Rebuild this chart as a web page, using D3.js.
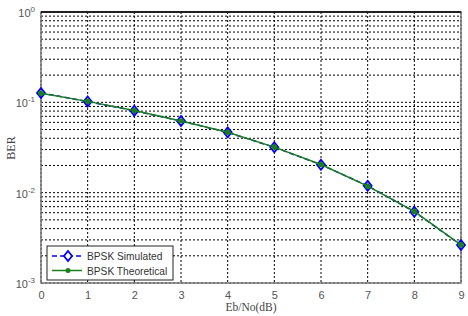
<!DOCTYPE html>
<html>
<head>
<meta charset="utf-8">
<script src="https://cdn.jsdelivr.net/npm/d3@7"></script>
<style>
  body { margin: 0; background: #fff; }
  svg { display: block; }
</style>
</head>
<body>
<svg id="chart" width="468" height="316"></svg>
<script>
// data
let snr = [0, 1, 2, 3, 4, 5, 6, 7, 8, 9];
let berSim = [0.127, 0.102, 0.0807, 0.0621, 0.0465, 0.0318, 0.0204, 0.0119, 0.00615, 0.00263];
let berTheory = [0.126, 0.1025, 0.081, 0.0622, 0.0466, 0.0319, 0.0205, 0.0118, 0.0062, 0.00265];
let yTicks = [1e-3, 1e-2, 1e-1, 1];
let yExp = ["-3", "-2", "-1", "0"];
let legendNames = ["BPSK Simulated", "BPSK Theoretical"];

function makeChart(id) {
    let margins = {top: 12, right: 7, bottom: 33, left: 41};
    let width = 468, height = 316;
    let innerWidth = width - margins.left - margins.right;
    let innerHeight = height - margins.top - margins.bottom;

    let svg = d3.select("#" + id);
    let g = svg.append("g").attr("transform", `translate(${margins.left},${margins.top})`);

    let xScale = d3.scaleLinear().domain([0, 9]).range([0, innerWidth]);
    let yScale = d3.scaleLog().domain([1e-3, 1]).range([innerHeight, 0]);

    // minor + major grid on log axis
    let yGrid = [];
    for (let e = -3; e < 0; e++) {
        for (let k = 1; k < 10; k++) yGrid.push(k * Math.pow(10, e));
    }
    yGrid.push(1);

    g.selectAll(".ygrid").data(yGrid).enter().append("line")
        .attr("class", "ygrid")
        .attr("x1", 0).attr("x2", innerWidth)
        .attr("y1", d => yScale(d)).attr("y2", d => yScale(d))
        .style("stroke", "#000").style("stroke-width", 1)
        .style("stroke-dasharray", "2,2");

    g.selectAll(".xgrid").data(snr).enter().append("line")
        .attr("class", "xgrid")
        .attr("x1", d => xScale(d)).attr("x2", d => xScale(d))
        .attr("y1", 0).attr("y2", innerHeight)
        .style("stroke", "#000").style("stroke-width", 1)
        .style("stroke-dasharray", "2,2");

    // box
    g.append("rect")
        .attr("x", 0).attr("y", 0)
        .attr("width", innerWidth).attr("height", innerHeight)
        .style("fill", "none").style("stroke", "#777").style("stroke-width", 1.5);
    g.append("line")
        .attr("x1", 0).attr("x2", innerWidth).attr("y1", 0).attr("y2", 0)
        .style("stroke", "#000").style("stroke-width", 1.5);

    // x ticks
    let xAxis = g.append("g")
        .attr("transform", `translate(0,${innerHeight})`)
        .call(d3.axisBottom(xScale).tickValues(snr).tickSize(0).tickPadding(8).tickFormat(d3.format("d")));
    xAxis.select(".domain").remove();
    xAxis.selectAll("text")
        .style("font-family", "Liberation Sans, Arial, sans-serif")
        .style("font-size", "11px").style("fill", "#555");

    // y ticks with superscripts
    let yLab = g.selectAll(".ylab").data(yTicks).enter().append("text")
        .attr("class", "ylab")
        .attr("x", -6).attr("y", d => yScale(d) + 5)
        .attr("text-anchor", "end")
        .style("font-family", "Liberation Sans, Arial, sans-serif")
        .style("font-size", "11px").style("fill", "#555");
    yLab.append("tspan").text("10");
    yLab.append("tspan").attr("dy", -5).style("font-size", "8px").text((d, i) => yExp[i]);

    // axis titles
    svg.append("text")
        .attr("x", margins.left + innerWidth / 2).attr("y", 311)
        .attr("text-anchor", "middle")
        .style("font-family", "Liberation Serif, Times New Roman, serif")
        .style("font-size", "11.5px").style("fill", "#444")
        .text("Eb/No(dB)");
    svg.append("text")
        .attr("transform", `translate(15,148) rotate(-90)`)
        .attr("text-anchor", "middle")
        .style("font-family", "Liberation Serif, Times New Roman, serif")
        .style("font-size", "12px").style("fill", "#444")
        .text("BER");

    let line = d3.line().x((d, i) => xScale(snr[i])).y(d => yScale(d));

    let diamond = "M0,-5L4,0L0,5L-4,0Z";

    // simulated
    g.append("path").datum(berSim).attr("d", line)
        .style("fill", "none").style("stroke", "#0000ff").style("stroke-width", 1.5)
        .style("stroke-dasharray", "5,3");
    g.selectAll(".sim").data(berSim).enter().append("path")
        .attr("class", "sim")
        .attr("transform", (d, i) => `translate(${xScale(snr[i])},${yScale(d)})`)
        .attr("d", diamond)
        .style("fill", "none").style("stroke", "#0000ff").style("stroke-width", 1.8);

    // theoretical
    g.append("path").datum(berTheory).attr("d", line)
        .style("fill", "none").style("stroke", "#1a801a").style("stroke-width", 1.5);
    g.selectAll(".th").data(berTheory).enter().append("circle")
        .attr("class", "th")
        .attr("cx", (d, i) => xScale(snr[i])).attr("cy", d => yScale(d))
        .attr("r", 2.8)
        .style("fill", "#1a801a");

    // legend
    let lg = svg.append("g").attr("transform", "translate(47,246)");
    lg.append("rect").attr("width", 126).attr("height", 34)
        .style("fill", "#fff").style("stroke", "#222").style("stroke-width", 1);
    let rows = lg.selectAll(".row").data(legendNames).enter().append("g")
        .attr("class", "row")
        .attr("transform", (d, i) => `translate(0,${10 + i * 14.5})`);
    rows.append("line").attr("x1", 5).attr("x2", 35).attr("y1", 0).attr("y2", 0)
        .style("stroke", (d, i) => i === 0 ? "#0000ff" : "#1a801a")
        .style("stroke-width", 1.5)
        .style("stroke-dasharray", (d, i) => i === 0 ? "5,3" : null);
    rows.filter((d, i) => i === 0).append("path")
        .attr("transform", "translate(21,0)").attr("d", diamond)
        .style("fill", "#fff").style("stroke", "#0000ff").style("stroke-width", 1.8);
    rows.filter((d, i) => i === 1).append("circle")
        .attr("cx", 21).attr("r", 2.5).style("fill", "#1a801a");
    rows.append("text").attr("x", 40).attr("y", 4)
        .style("font-family", "Liberation Sans, Arial, sans-serif")
        .style("font-size", "10.2px").style("fill", "#333")
        .text(d => d);
}

makeChart("chart");
</script>
</body>
</html>
